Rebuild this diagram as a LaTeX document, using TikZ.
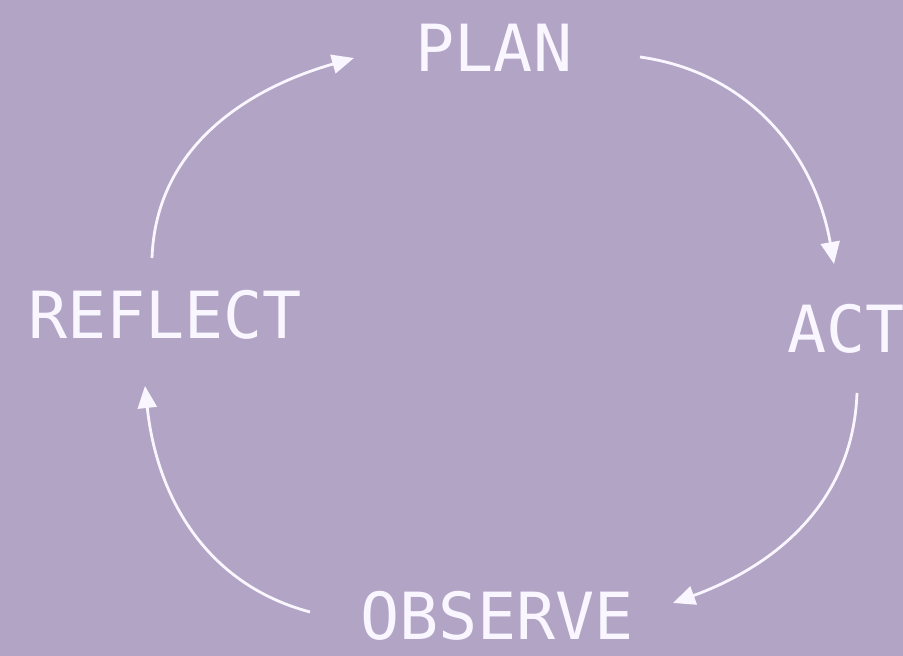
\documentclass[tikz,border=0pt]{standalone}
\usepackage{fontspec}
\newfontfamily\labelfont{DejaVu Sans Mono}
\usetikzlibrary{arrows.meta}
\definecolor{bgc}{HTML}{B2A4C5}
\definecolor{ink}{HTML}{FAF6FF}
\begin{document}
\begin{tikzpicture}[x=1pt,y=1pt,
  stage/.style={text=ink, inner sep=0pt, font=\labelfont\fontsize{65}{65}\selectfont},
  cyc/.style={draw=ink, line width=2.8pt, -{Triangle[length=22pt,width=19pt]}}]
\fill[bgc] (0,0) rectangle (903,656);
\useasboundingbox (0,0) rectangle (903,656);
\node[stage] (plan) at (494,608) {PLAN};
\node[stage] (reflect) at (165,341) {REFLECT};
\node[stage] (act) at (846,327) {ACT};
\node[stage] (observe) at (497,40) {OBSERVE};
\coordinate (a1s) at (152,398);
\coordinate (a1e) at (354,598);
\coordinate (a2s) at (640,599);
\coordinate (a2e) at (834,392);
\coordinate (a3s) at (857,263);
\coordinate (a3e) at (673,53);
\coordinate (a4s) at (310,44);
\coordinate (a4e) at (145,270);
\draw[cyc] (a1s) to[out=88,in=196] (a1e);
\draw[cyc] (a2s) to[out=-8,in=100] (a2e);
\draw[cyc] (a3s) to[out=-92,in=20] (a3e);
\draw[cyc] (a4s) to[out=165,in=-84] (a4e);
\end{tikzpicture}
\end{document}
